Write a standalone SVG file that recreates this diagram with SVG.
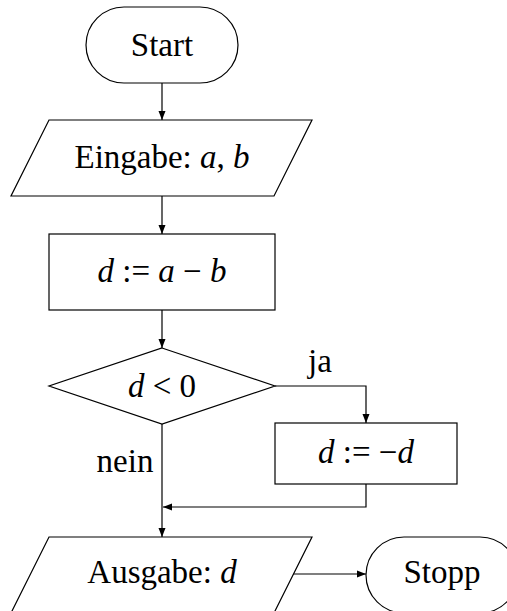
<svg xmlns="http://www.w3.org/2000/svg" width="507" height="611" viewBox="0 0 507 611">
<style>
.s{fill:#fff;stroke:#000;stroke-width:1.2}
.t{font-family:"Liberation Serif","Times New Roman",serif;font-size:33px;fill:#000;text-anchor:middle}
.i{font-style:italic}
.c{fill:none;stroke:#000;stroke-width:1.2}
</style>
<defs>
<marker id="a" markerUnits="userSpaceOnUse" markerWidth="10" markerHeight="8" refX="9" refY="4" orient="auto">
<path d="M0,0.5 L9,4 L0,7.5 Z" fill="#000"/>
</marker>
</defs>
<rect width="507" height="611" fill="#fff"/>
<g id="connectors">
<path class="c" d="M162,83 V120" marker-end="url(#a)"/>
<path class="c" d="M162,196 V234" marker-end="url(#a)"/>
<path class="c" d="M162,310 V348" marker-end="url(#a)"/>
<path class="c" d="M275,386 H366 V423" marker-end="url(#a)"/>
<path class="c" d="M162,424 V537" marker-end="url(#a)"/>
<path class="c" d="M366,484 V507 H163" marker-end="url(#a)"/>
<path class="c" d="M293,574 H366" marker-end="url(#a)"/>
<text class="t" x="320" y="372">ja</text>
<text class="t" x="125" y="472">nein</text>
</g>
<g id="start">
<rect class="s" x="86" y="7" width="152" height="76" rx="38" ry="38"/>
<text class="t" x="162" y="56">Start</text>
</g>
<g id="eingabe">
<polygon class="s" points="49,120 312,120 274,196 11,196"/>
<text class="t" x="162" y="168">Eingabe: <tspan class="i">a</tspan>, <tspan class="i">b</tspan></text>
</g>
<g id="assign">
<rect class="s" x="49" y="234" width="226" height="76"/>
<text class="t" x="162" y="282"><tspan class="i">d</tspan> := <tspan class="i">a</tspan> − <tspan class="i">b</tspan></text>
</g>
<g id="decision">
<polygon class="s" points="162,348 275,386 162,424 49,386"/>
<text class="t" x="162" y="397"><tspan class="i">d</tspan> &lt; 0</text>
</g>
<g id="negate">
<rect class="s" x="275" y="423" width="182" height="61"/>
<text class="t" x="366" y="463"><tspan class="i">d</tspan> := −<tspan class="i">d</tspan></text>
</g>
<g id="ausgabe">
<polygon class="s" points="49,537 312,537 274,613 11,613"/>
<text class="t" x="162" y="583">Ausgabe: <tspan class="i">d</tspan></text>
</g>
<g id="stopp">
<rect class="s" x="366" y="537" width="152" height="76" rx="38" ry="38"/>
<text class="t" x="442" y="583">Stopp</text>
</g>
</svg>
